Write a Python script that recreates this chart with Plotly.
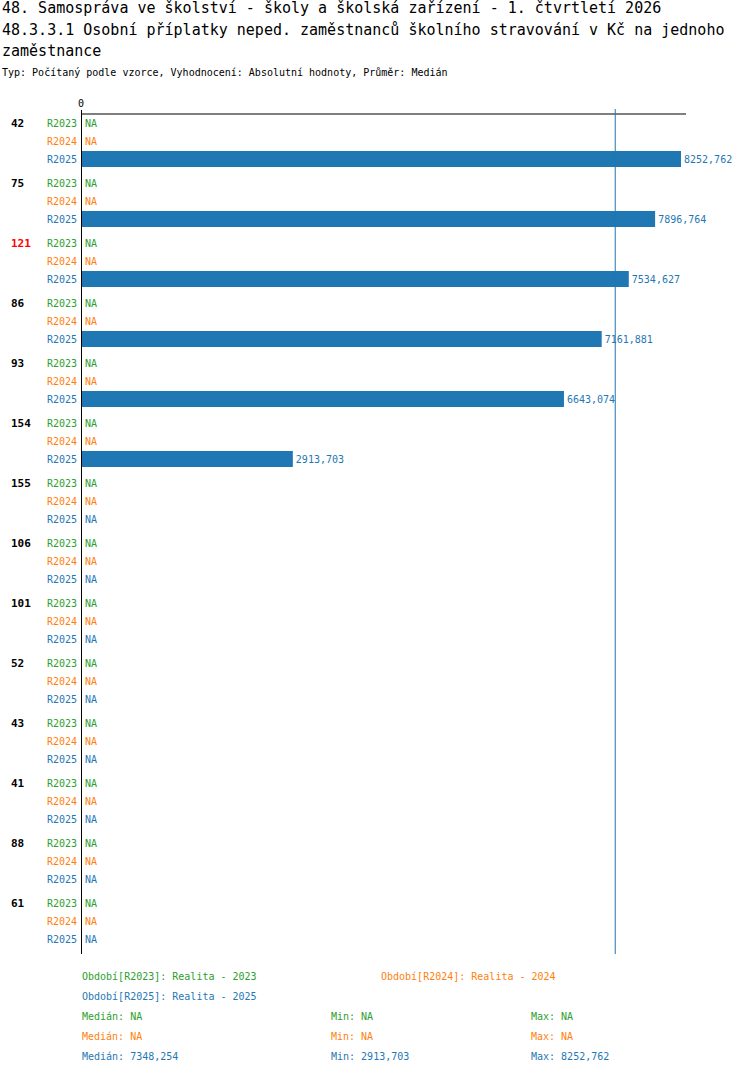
import numpy as np
import plotly.graph_objects as go

# ---------------- data ----------------
groups = ["42", "75", "121", "86", "93", "154", "155", "106", "101", "52", "43", "41", "88", "61"]
highlight_group = "121"
series_codes = ["R2023", "R2024", "R2025"]
series_names = ["Realita - 2023", "Realita - 2024", "Realita - 2025"]
series_colors = ["#2ca02c", "#ff7f0e", "#1f77b4"]
r2023 = [None] * 14
r2024 = [None] * 14
r2025 = [8252.762, 7896.764, 7534.627, 7161.881, 6643.074, 2913.703,
         None, None, None, None, None, None, None, None]
series_values = [r2023, r2024, r2025]

title1 = "48. Samospráva ve školství - školy a školská zařízení - 1. čtvrtletí 2026"
title2 = "48.3.3.1 Osobní příplatky neped. zaměstnanců školního stravování v Kč na jednoho"
title3 = "zaměstnance"
subtitle = "Typ: Počítaný podle vzorce, Vyhodnocení: Absolutní hodnoty, Průměr: Medián"

# ---------------- geometry ----------------
W, H = 750, 1074
L, R, T, B = 81, 686, 100, 955
XMAX = 8321.5
FONT = "DejaVu Sans Mono"


def px2x(px):
    return (px - L) / (R - L)


def py2y(py):
    return (B - py) / (B - T)


def fmt(v):
    return f"{v:.3f}".replace(".", ",")


def row_y(gi, si):
    return 123 + 60 * gi + 18 * si


fig = go.Figure()
annotations = []

for si, (code, vals, col) in enumerate(zip(series_codes, series_values, series_colors)):
    ys, xs, texts = [], [], []
    for gi, v in enumerate(vals):
        y = row_y(gi, si)
        if v is not None:
            ys.append(y)
            xs.append(v)
            texts.append(fmt(v))
        else:
            annotations.append(dict(x=0, xref="x", y=y, yref="y", text="NA",
                                    showarrow=False, xanchor="left", yanchor="middle",
                                    xshift=2, font=dict(family=FONT, size=10, color=col)))
        annotations.append(dict(x=0, xref="paper", y=y, yref="y", text=code,
                                showarrow=False, xanchor="right", yanchor="middle",
                                xshift=-2, font=dict(family=FONT, size=10, color=col)))
    fig.add_trace(go.Bar(x=xs, y=ys, orientation="h", width=16,
                         marker=dict(color=col, line=dict(width=0)),
                         text=texts, textposition="outside", cliponaxis=False,
                         textfont=dict(family=FONT, size=10, color=col),
                         hoverinfo="skip", name=code))

for gi, g in enumerate(groups):
    annotations.append(dict(x=0, xref="paper", y=row_y(gi, 0), yref="y",
                            text=f"<b>{g}</b>", showarrow=False, xanchor="left",
                            yanchor="middle", xshift=-72,
                            font=dict(family=FONT, size=11,
                                      color="#ff0000" if g == highlight_group else "#000000")))

# zero tick
annotations.append(dict(x=0, xref="x", y=103, yref="y", text="0", showarrow=False,
                        xanchor="center", yanchor="middle",
                        font=dict(family=FONT, size=10, color="#000000")))

# titles
for txt, py, size in [(title1, 8, 15), (title2, 30, 15), (title3, 51, 15), (subtitle, 73, 10)]:
    annotations.append(dict(x=px2x(0), xref="paper", y=py2y(py), yref="paper", text=txt,
                            showarrow=False, xanchor="left", yanchor="middle",
                            font=dict(family=FONT, size=size, color="#000000")))

# legend
legend_pos = [(80, 976), (379, 976), (80, 996)]
for (lx, ly), code, nm, col in zip(legend_pos, series_codes, series_names, series_colors):
    annotations.append(dict(x=px2x(lx), xref="paper", y=py2y(ly), yref="paper",
                            text=f"Období[{code}]: {nm}", showarrow=False,
                            xanchor="left", yanchor="middle",
                            font=dict(family=FONT, size=10, color=col)))

# stats
med_all = None
for si, (vals, col) in enumerate(zip(series_values, series_colors)):
    arr = np.array([v for v in vals if v is not None], dtype=float)
    if arr.size:
        med, mn, mx = fmt(np.median(arr)), fmt(arr.min()), fmt(arr.max())
        med_all = float(np.median(arr))
    else:
        med = mn = mx = "NA"
    ly = 1016 + 20 * si
    for lx, lab in [(80, f"Medián: {med}"), (329, f"Min: {mn}"), (529, f"Max: {mx}")]:
        annotations.append(dict(x=px2x(lx), xref="paper", y=py2y(ly), yref="paper",
                                text=lab, showarrow=False, xanchor="left", yanchor="middle",
                                font=dict(family=FONT, size=10, color=col)))

shapes = [
    dict(type="line", xref="x", yref="y", x0=0, x1=XMAX, y0=114, y1=114,
         line=dict(color="#000000", width=1)),
    dict(type="line", xref="x", yref="y", x0=med_all, x1=med_all, y0=109, y1=954,
         line=dict(color="#1f77b4", width=1)),
    dict(type="line", xref="x", yref="y", x0=0, x1=0, y0=110, y1=954,
         line=dict(color="#000000", width=2)),
]

fig.update_layout(
    width=W, height=H, autosize=False,
    margin=dict(l=L, r=W - R, t=T, b=H - B, pad=0),
    paper_bgcolor="white", plot_bgcolor="white",
    showlegend=False, barmode="overlay",
    xaxis=dict(range=[0, XMAX], visible=False, fixedrange=True),
    yaxis=dict(range=[B, T], visible=False, fixedrange=True),
    annotations=annotations, shapes=shapes,
    font=dict(family=FONT),
)

fig.write_html("out.html", config={"displayModeBar": False},
               post_script="document.body.style.margin='0px';document.body.style.overflow='hidden';")
